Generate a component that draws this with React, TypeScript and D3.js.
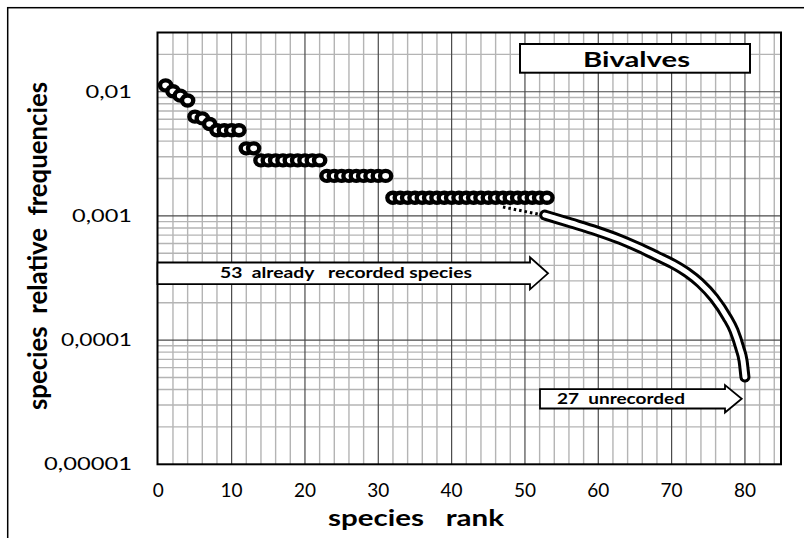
import React from "react";
import * as d3 from "d3";

const W = 804;
const H = 538;

// recorded species (rank 1..53) relative frequencies
const recordedFreq = [
  0.01125, 0.0101, 0.0093, 0.0085, 0.0063, 0.0061, 0.0055, 0.0049, 0.0049, 0.0049,
  0.0049, 0.0035, 0.0035, 0.0028, 0.0028, 0.0028, 0.0028, 0.0028, 0.0028, 0.0028,
  0.0028, 0.0028, 0.0021, 0.0021, 0.0021, 0.0021, 0.0021, 0.0021, 0.0021, 0.0021,
  0.0021, 0.0014, 0.0014, 0.0014, 0.0014, 0.0014, 0.0014, 0.0014, 0.0014, 0.0014,
  0.0014, 0.0014, 0.0014, 0.0014, 0.0014, 0.0014, 0.0014, 0.0014, 0.0014, 0.0014,
  0.0014, 0.0014, 0.0014,
];

// estimated curve for unrecorded species
const curveRank = [52.7, 56.3, 59.8, 63, 65.7, 68, 70.2, 72.1, 73.9, 75.8, 77.55, 78.5, 79.3, 79.75, 80];
const curveFreq = [
  0.001017, 0.000877, 0.000756, 0.000646, 0.000551, 0.000475, 0.00041, 0.00035, 0.000288,
  0.000218, 0.000153, 0.0001195, 0.0000863, 0.0000679, 0.0000504,
];

// dotted connector
const dotRank = [47, 52.3];
const dotFreq = [0.00118, 0.00102];

const xTicks = [0, 10, 20, 30, 40, 50, 60, 70, 80];
const yTicks = [0.00001, 0.0001, 0.001, 0.01];
const yTickLabels = ["0,00001", "0,0001", "0,001", "0,01"];
const yTickWidths = [88, 71, 60, 46.5];

const FONT = "Lato, 'Liberation Sans', sans-serif";

export default function App() {
  const left = 157.5;
  const right = 781;
  const top = 32.5;
  const bottom = 464.3;

  const x = d3.scaleLinear().domain([0, 85]).range([158.3, 158.3 + 85 * 7.333]);
  const y = d3.scaleLog().domain([0.00001, 0.03]).range([bottom, top]);

  const minorX = d3.range(0, 86, 2).filter((v) => v % 10 !== 0);
  const majorX = d3.range(10, 86, 10);
  const minorY: number[] = [];
  [-5, -4, -3, -2].forEach((k) => {
    for (let m = 2; m <= 9; m++) {
      const v = m * Math.pow(10, k);
      if (v < 0.0299) minorY.push(v);
    }
  });
  const majorY = [0.0001, 0.001, 0.01];

  const curveLine = d3
    .line<number>()
    .x((_, i) => x(curveRank[i]))
    .y((d) => y(d))
    .curve(d3.curveMonotoneX);
  const curvePath = curveLine(curveFreq) || "";

  const dotLine = d3
    .line<number>()
    .x((_, i) => x(dotRank[i]))
    .y((d) => y(d));

  const arrow = (x0: number, x1: number, xt: number, yc: number, hb: number, hh: number) =>
    `M${x0},${yc - hb} L${x1},${yc - hb} L${x1},${yc - hh} L${xt},${yc} L${x1},${yc + hh} L${x1},${yc + hb} L${x0},${yc + hb} Z`;

  const T = (
    tx: number,
    ty: number,
    txt: string,
    size: number,
    weight: number,
    anchor: string,
    len?: number,
    key?: string
  ) => (
    <text
      key={key}
      x={tx}
      y={ty}
      fontFamily={FONT}
      fontSize={size}
      fontWeight={weight}
      textAnchor={anchor}
      fill="#000"
      textLength={len}
      lengthAdjust={len ? "spacingAndGlyphs" : undefined}
      style={{ whiteSpace: "pre" }}
    >
      {txt}
    </text>
  );

  return (
    <svg
      width={W}
      height={H}
      style={{ position: "absolute", left: 0, top: 0, background: "#fff" }}
    >
      <rect x={0} y={0} width={W} height={H} fill="#fff" />
      {/* chart area border */}
      <rect x={7.7} y={7.7} width={1000} height={1000} fill="none" stroke="#000" strokeWidth={1.5} />

      {/* grid */}
      <g>
        {minorX.map((v) => (
          <line key={"mx" + v} x1={x(v)} x2={x(v)} y1={top} y2={bottom} stroke="#b4b4b4" strokeWidth={1.4} />
        ))}
        {minorY.map((v) => (
          <line key={"my" + v} x1={left} x2={right} y1={y(v)} y2={y(v)} stroke="#b4b4b4" strokeWidth={1.4} />
        ))}
        {majorX.map((v) => (
          <line key={"Mx" + v} x1={x(v)} x2={x(v)} y1={top} y2={bottom} stroke="#4a4a4a" strokeWidth={1.2} />
        ))}
        {majorY.map((v) => (
          <line key={"My" + v} x1={left} x2={right} y1={y(v)} y2={y(v)} stroke="#4a4a4a" strokeWidth={1.2} />
        ))}
      </g>
      <rect x={left} y={top} width={right - left} height={bottom - top} fill="none" stroke="#000" strokeWidth={2} />

      {/* tick labels */}
      {yTicks.map((v, i) => T(132, y(v) + 6, yTickLabels[i], 16.5, 400, "end", yTickWidths[i], "yt" + i))}
      {xTicks.map((v) => T(x(v), 497, String(v), 19, 400, "middle", undefined, "xt" + v))}

      {/* axis titles */}
      {T(416, 526, "species   rank", 22, 700, "middle", 176)}
      <text
        transform="translate(47,246) rotate(-90)"
        fontFamily={FONT}
        fontSize={27}
        fontWeight={700}
        textAnchor="middle"
        fill="#000"
        textLength={328}
        lengthAdjust="spacingAndGlyphs"
        style={{ whiteSpace: "pre" }}
      >
        {"species  relative  frequencies"}
      </text>

      {/* dotted connector */}
      <path d={dotLine(dotFreq) || ""} fill="none" stroke="#000" strokeWidth={3} strokeDasharray="2.5,3" />

      {/* curve (double line) */}
      <path d={curvePath} fill="none" stroke="#000" strokeWidth={11} strokeLinecap="round" />
      <path d={curvePath} fill="none" stroke="#fff" strokeWidth={5} strokeLinecap="round" />

      {/* markers */}
      {recordedFreq.map((v, i) => (
        <ellipse
          key={"m" + i}
          cx={x(i + 1)}
          cy={y(v)}
          rx={5.6}
          ry={5}
          fill="#fff"
          stroke="#000"
          strokeWidth={4.4}
        />
      ))}

      {/* arrows */}
      <path d={arrow(157.5, 530, 548, 273.3, 10.8, 16)} fill="#fff" stroke="#000" strokeWidth={1.8} />
      {T(346, 278.3, "53  already   recorded species", 16, 700, "middle", 252)}
      <path d={arrow(540, 725, 741.7, 398.8, 9.7, 13.7)} fill="#fff" stroke="#000" strokeWidth={1.8} />
      {T(557, 404, "27  unrecorded", 15, 700, "start", 128)}

      {/* legend box */}
      <rect x={520} y={44} width={230} height={28.7} fill="#fff" stroke="#000" strokeWidth={2} />
      {T(636.5, 67.3, "Bivalves", 21.5, 700, "middle", 107)}
    </svg>
  );
}
